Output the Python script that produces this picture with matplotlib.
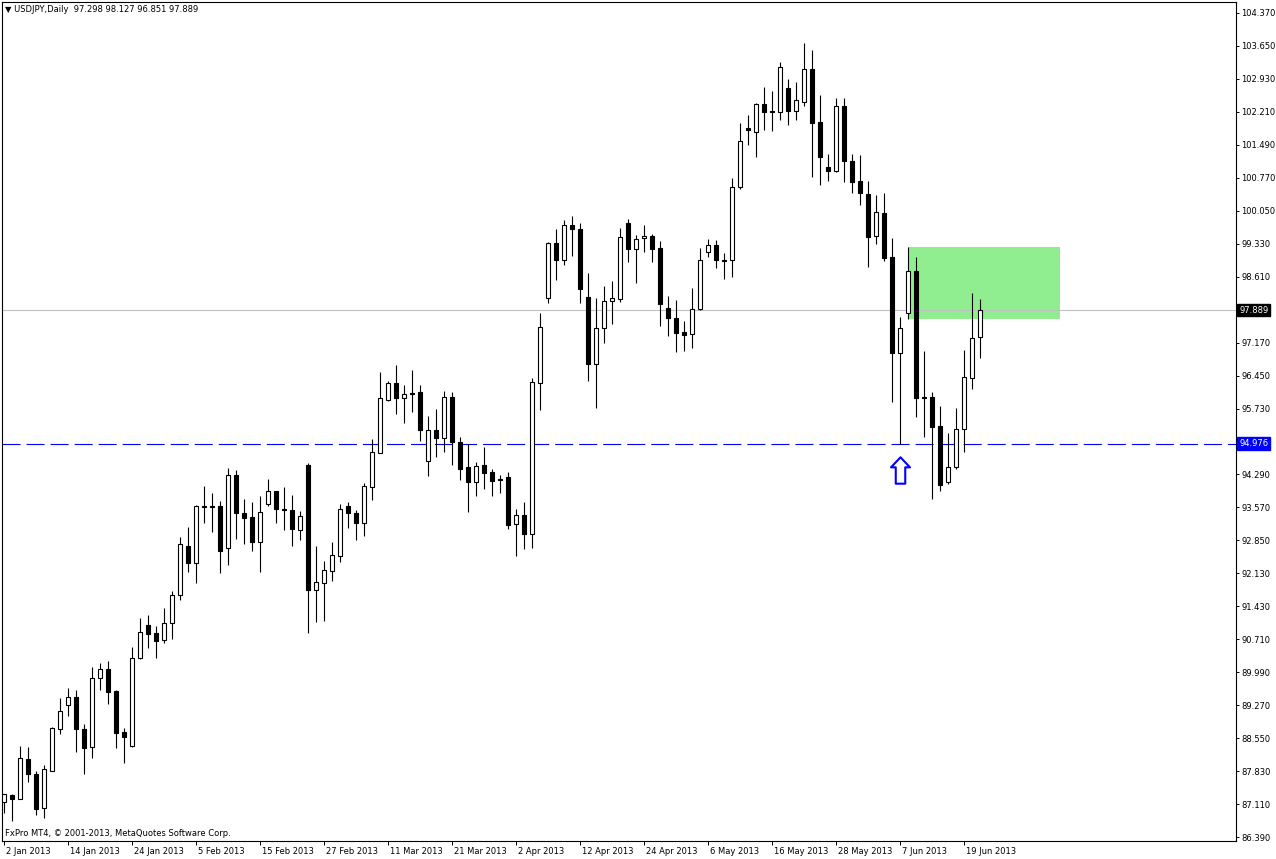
import numpy as np
import matplotlib
matplotlib.use("Agg")
import matplotlib.pyplot as plt
import matplotlib.transforms as mtransforms
from matplotlib.patches import Rectangle
from matplotlib.path import Path

# USDJPY daily, 2 Jan 2013 .. 21 Jun 2013 (one bar per weekday)
opens = [87.15, 87.31, 87.21, 88.09, 87.76, 87.02, 87.84, 88.74, 89.27, 89.44,
         88.74, 88.35, 89.85, 90.05, 89.58, 88.68, 88.38, 90.29, 91.02, 90.84,
         90.68, 91.05, 91.66, 92.73, 92.36, 93.61, 93.61, 93.61, 92.69, 94.29,
         93.45, 93.37, 92.83, 93.65, 93.94, 93.54, 93.53, 93.08, 94.51, 91.77,
         91.93, 92.20, 92.53, 93.61, 93.45, 93.25, 94.03, 94.78, 95.93, 96.29,
         95.96, 96.08, 96.09, 94.59, 95.27, 95.09, 95.99, 95.00, 94.47, 94.14,
         94.51, 94.35, 94.20, 94.25, 93.21, 93.42, 93.01, 96.30, 98.16, 99.35,
         98.98, 99.74, 99.66, 98.17, 96.71, 97.49, 98.08, 98.14, 99.78, 99.21,
         99.45, 99.50, 99.24, 97.93, 97.71, 97.40, 97.36, 97.91, 99.15, 99.30,
         98.97, 98.98, 100.57, 101.86, 101.78, 102.38, 102.23, 102.22, 102.73, 102.24,
         102.43, 103.14, 101.99, 101.02, 100.93, 102.34, 101.14, 100.70, 100.42, 99.50,
         100.00, 99.04, 96.95, 97.82, 98.74, 95.99, 95.99, 95.36, 94.13, 94.46,
         95.29, 96.41, 97.298]
highs = [87.33, 87.32, 88.38, 88.35, 87.82, 87.97, 88.78, 89.42, 89.64, 89.60,
         88.85, 90.09, 90.19, 90.23, 89.60, 88.76, 90.53, 91.16, 91.24, 91.00,
         91.38, 91.76, 92.93, 93.15, 93.64, 94.05, 93.90, 93.72, 94.44, 94.40,
         93.77, 93.71, 93.83, 94.20, 93.95, 94.03, 93.85, 93.50, 94.55, 92.74,
         92.41, 92.83, 93.66, 93.71, 93.53, 94.11, 95.08, 96.54, 96.33, 96.69,
         96.25, 96.58, 96.26, 95.58, 95.73, 96.12, 96.10, 95.11, 94.96, 94.58,
         94.91, 94.43, 94.29, 94.36, 93.55, 93.69, 96.40, 97.83, 99.37, 99.66,
         99.85, 99.95, 99.78, 98.70, 98.15, 98.41, 98.52, 99.67, 99.88, 99.53,
         99.74, 99.55, 99.40, 98.20, 98.11, 97.65, 98.36, 99.24, 99.43, 99.41,
         99.13, 100.76, 101.98, 102.14, 102.41, 102.76, 102.67, 103.30, 102.93, 102.86,
         103.72, 103.56, 102.58, 101.29, 102.51, 102.51, 101.30, 101.27, 100.70, 100.40,
         100.44, 99.45, 97.74, 99.27, 99.04, 97.00, 96.09, 95.80, 95.20, 95.76,
         97.02, 98.25, 98.127]
lows = [86.92, 86.73, 87.21, 87.60, 86.86, 86.80, 87.82, 88.64, 89.04, 88.25,
        87.76, 88.11, 89.60, 89.29, 88.33, 88.01, 88.36, 90.27, 90.52, 90.30,
        90.63, 90.71, 91.57, 92.17, 91.94, 93.25, 93.05, 92.15, 92.33, 92.90,
        92.78, 92.64, 92.18, 93.62, 93.25, 93.09, 92.75, 92.87, 90.85, 91.09,
        91.11, 91.98, 92.40, 93.14, 92.87, 92.96, 93.74, 94.76, 95.91, 95.61,
        95.42, 95.66, 95.04, 94.27, 94.69, 94.80, 94.51, 94.17, 93.49, 93.84,
        93.98, 93.84, 93.89, 93.11, 92.52, 92.68, 92.70, 95.71, 98.05, 98.54,
        98.87, 99.07, 98.05, 96.33, 95.75, 97.18, 97.58, 98.07, 98.94, 98.47,
        99.16, 98.94, 97.53, 97.33, 96.98, 97.00, 97.05, 97.89, 99.04, 98.80,
        98.56, 98.62, 100.52, 101.49, 101.23, 101.82, 101.80, 102.04, 101.93, 102.04,
        102.33, 100.80, 100.62, 100.71, 100.89, 100.69, 100.44, 100.18, 98.83, 99.32,
        98.96, 95.88, 94.976, 97.69, 95.56, 95.11, 93.76, 93.95, 94.09, 94.42,
        94.80, 96.17, 96.851]
closes = [87.32, 87.21, 88.11, 87.76, 87.00, 87.88, 88.76, 89.14, 89.44, 88.75,
          88.34, 89.85, 90.05, 89.56, 88.67, 88.58, 90.29, 90.86, 90.81, 90.67,
          91.05, 91.67, 92.78, 92.36, 93.61, 93.60, 93.58, 92.62, 94.29, 93.45,
          93.36, 92.83, 93.48, 93.94, 93.54, 93.53, 93.10, 93.40, 91.77, 91.96,
          92.21, 92.54, 93.54, 93.45, 93.25, 94.05, 94.79, 95.96, 96.29, 95.96,
          96.06, 96.05, 95.27, 95.27, 95.10, 95.99, 95.02, 94.41, 94.14, 94.49,
          94.34, 94.16, 94.19, 93.20, 93.42, 93.01, 96.31, 97.51, 99.35, 98.98,
          99.74, 99.65, 98.35, 96.71, 97.49, 98.09, 98.15, 99.48, 99.21, 99.43,
          99.50, 99.21, 98.01, 97.71, 97.39, 97.35, 97.91, 98.97, 99.30, 98.97,
          98.96, 100.57, 101.58, 101.81, 102.38, 102.22, 102.22, 103.19, 102.24, 102.47,
          103.14, 101.98, 101.23, 100.93, 102.34, 101.13, 100.69, 100.44, 99.49, 100.02,
          99.02, 96.95, 97.50, 98.74, 95.98, 95.98, 95.34, 94.07, 94.46, 95.29,
          96.42, 97.27, 97.889]

date_labels = ["2 Jan 2013", "14 Jan 2013", "24 Jan 2013", "5 Feb 2013",
               "15 Feb 2013", "27 Feb 2013", "11 Mar 2013", "21 Mar 2013",
               "2 Apr 2013", "12 Apr 2013", "24 Apr 2013", "6 May 2013",
               "16 May 2013", "28 May 2013", "7 Jun 2013", "19 Jun 2013"]
date_bars = [0, 8, 16, 24, 32, 40, 48, 56, 64, 72, 80, 88, 96, 104, 112, 120]

price_labels = ["104.370", "103.650", "102.930", "102.210", "101.490", "100.770",
                "100.050", "99.330", "98.610", "97.890", "97.170", "96.450",
                "95.730", "95.010", "94.290", "93.570", "92.850", "92.130",
                "91.430", "90.710", "89.990", "89.270", "88.550", "87.830",
                "87.110", "86.390"]

bid = 97.889
level = 94.976
zone_bars = [113, 132]
zone_prices = [97.69, 99.27]
arrow_bar = 112
arrow_price = 94.40

header = "\u25bc USDJPY,Daily  97.298 98.127 96.851 97.889"
footer = "FxPro MT4, \u00a9 2001-2013, MetaQuotes Software Corp."

plt.rcParams['font.family'] = ['DejaVu Sans']
plt.rcParams['lines.scale_dashes'] = False

W, H = 1276, 859
fig = plt.figure(figsize=(W / 100, H / 100), dpi=100)
fig.patch.set_facecolor('white')
ax = fig.add_axes([2 / W, 1 - 841 / H, 1234 / W, 839 / H])

o = np.array(opens); h = np.array(highs); l = np.array(lows); c = np.array(closes)
x = np.arange(len(o))
up = c >= o

# green zone behind everything
ax.add_patch(Rectangle((zone_bars[0], zone_prices[0]), zone_bars[1] - zone_bars[0],
                       zone_prices[1] - zone_prices[0], facecolor='#90EE90',
                       edgecolor='none', zorder=0))

ax.axhline(bid, color='#C0C0C0', lw=0.8, zorder=1)
ax.axhline(level, color='#0000FF', lw=0.8, dashes=(13, 4.3), zorder=1)

ax.vlines(x, l, h, color='black', lw=0.8, zorder=2)
bw = 0.6
ax.bar(x[up], (c - o)[up], bottom=o[up], width=bw, color='white',
       edgecolor='black', linewidth=0.8, zorder=3)
ax.bar(x[~up], (o - c)[~up], bottom=c[~up], width=bw, color='black',
       edgecolor='black', linewidth=0.8, zorder=3)

# hollow up arrow under the 7 Jun low
arrow = Path([(-0.18, -0.5), (0.18, -0.5), (0.18, 0.12), (0.36, 0.12),
              (0.0, 0.5), (-0.36, 0.12), (-0.18, 0.12), (-0.18, -0.5)],
             [Path.MOVETO] + [Path.LINETO] * 6 + [Path.CLOSEPOLY])
ax.plot([arrow_bar], [arrow_price], marker=arrow, markersize=19,
        markerfacecolor='white', markeredgecolor='#0000FF', markeredgewidth=1.5,
        zorder=4)

ax.set_xlim(-0.25, 154.0)
ax.set_ylim(86.303, 104.61)

# right price scale
ticks = np.linspace(104.37, 86.39, len(price_labels))
shown = [s if s not in ("97.890", "95.010") else "" for s in price_labels]
ax.yaxis.tick_right()
ax.set_yticks(ticks)
ax.set_yticklabels(shown)
ax.tick_params(axis='y', direction='out', length=2.5, width=0.7, pad=1.2,
               labelsize=6, colors='black')

# date scale
ax.set_xticks(date_bars)
ax.set_xticklabels(date_labels, ha='left')
ax.tick_params(axis='x', direction='out', length=3, width=0.7, pad=1.5,
               labelsize=6, colors='black')
shift = mtransforms.ScaledTranslation(2 / 100, 0, fig.dpi_scale_trans)
for lab in ax.get_xticklabels():
    lab.set_transform(lab.get_transform() + shift)

for sp in ax.spines.values():
    sp.set_linewidth(0.8)
    sp.set_color('black')

trans = mtransforms.blended_transform_factory(ax.transAxes, ax.transData)
ax.text(1.0 + 3 / 1234, bid, "97.889", transform=trans, ha='left', va='center',
        fontsize=6, color='white',
        bbox=dict(boxstyle='square,pad=0.2', fc='black', ec='black'))
ax.text(1.0 + 3 / 1234, level, "94.976", transform=trans, ha='left', va='center',
        fontsize=6, color='white',
        bbox=dict(boxstyle='square,pad=0.2', fc='#0000FF', ec='#0000FF'))

fig.text(5 / W, 1 - 10 / H, header, fontsize=6, va='center', ha='left')
ax.text(3 / 1234, 1 - (833 - 2) / 839, footer, transform=ax.transAxes,
        fontsize=6, va='center', ha='left')

fig.savefig("out.png", dpi=100)
